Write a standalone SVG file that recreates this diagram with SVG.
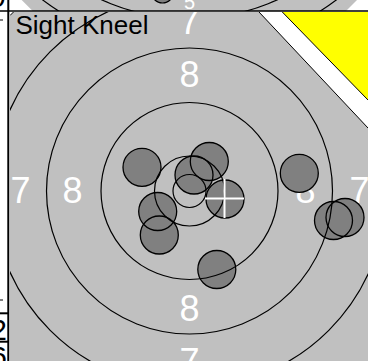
<svg xmlns="http://www.w3.org/2000/svg" width="368" height="361" viewBox="0 0 368 361">
<style>
.ring{fill:none;stroke:#000;stroke-width:1.2}
.hole{fill:#808080;stroke:none}
.holeline{fill:none;stroke:#000;stroke-width:1.3}
.lbl{font-family:"Liberation Sans",Arial,sans-serif;font-size:36px;fill:#fff;text-anchor:middle}
.frame{stroke:#000;stroke-width:2}
.side{font-family:"Liberation Sans",Arial,sans-serif;font-size:30px;fill:#000;text-anchor:end}
</style>
<defs>
<clipPath id="mainClip"><rect x="10" y="12" width="358" height="349"/></clipPath>
<clipPath id="prevClip"><polygon points="21.7,0 357,0 346,11 32.7,11"/></clipPath>
<clipPath id="sideClip"><rect x="0" y="0" width="7.5" height="361"/></clipPath>
<circle id="h" r="19"/>
</defs>
<rect width="368" height="361" fill="#fff"/>

<g id="previous-panel">
<polygon points="21.7,0 357,0 346,11 32.7,11" fill="#c0c0c0"/>
<g clip-path="url(#prevClip)">
<text x="189.5" y="9.3" class="lbl" style="font-size:20px">5</text>
<circle cx="162.5" cy="-8" r="11" fill="#808080" stroke="#000" stroke-width="1.2"/>
<circle cx="189.5" cy="-195" r="244" class="ring"/>
<circle cx="189.5" cy="-195" r="213.7" class="ring"/>
</g>
</g>

<g id="main-panel" clip-path="url(#mainClip)">
<rect x="10" y="12" width="358" height="349" fill="#c0c0c0"/>
<polygon points="10,12 13.5,12 10,15.5" fill="#fff"/>
<line x1="10" y1="15.5" x2="13.5" y2="12" stroke="#000" stroke-width="1"/>
<g id="labels">
<text class="lbl" x="189.5" y="34">7</text>
<text class="lbl" x="189.5" y="87.3">8</text>
<text class="lbl" x="20.5" y="203.3">7</text>
<text class="lbl" x="72.5" y="203.3">8</text>
<text class="lbl" x="305.5" y="203.3">8</text>
<text class="lbl" x="359.5" y="203.3">7</text>
<text class="lbl" x="189.5" y="321">8</text>
<text class="lbl" x="189.5" y="374">7</text>
</g>
<g id="hole-fills" class="hole">
<use href="#h" x="142" y="167.3"/>
<use href="#h" x="209.3" y="161.5"/>
<use href="#h" x="194" y="175"/>
<use href="#h" x="225" y="199"/>
<use href="#h" x="157.7" y="211.5"/>
<use href="#h" x="159.3" y="235"/>
<use href="#h" x="216.8" y="269.5"/>
<use href="#h" x="299.3" y="173.3"/>
<use href="#h" x="333.5" y="220.5"/>
<use href="#h" x="345" y="217.5"/>
</g>
<g id="rings">
<circle class="ring" cx="189.5" cy="191" r="16.5"/>
<circle class="ring" cx="189.5" cy="191" r="35"/>
<circle class="ring" cx="189.5" cy="191" r="88.5"/>
<circle class="ring" cx="189.5" cy="191" r="143"/>
<circle class="ring" cx="189.5" cy="191" r="197"/>
</g>
<g id="hole-outlines" class="holeline">
<use href="#h" x="142" y="167.3"/>
<use href="#h" x="209.3" y="161.5"/>
<use href="#h" x="194" y="175"/>
<use href="#h" x="225" y="199"/>
<use href="#h" x="157.7" y="211.5"/>
<use href="#h" x="159.3" y="235"/>
<use href="#h" x="216.8" y="269.5"/>
<use href="#h" x="299.3" y="173.3"/>
<use href="#h" x="333.5" y="220.5"/>
<use href="#h" x="345" y="217.5"/>
</g>
<g id="crosshair" stroke="#fff" stroke-width="2">
<line x1="205" y1="198.5" x2="244" y2="198.5"/>
<line x1="224.5" y1="179" x2="224.5" y2="218"/>
</g>
<g id="sighter-marker">
<polygon points="259,12 368,12 368,128" fill="#fff"/>
<line x1="259" y1="12" x2="368" y2="128" stroke="#000" stroke-width="1"/>
<polygon points="282.3,12 368,12 368,100" fill="#ffff00"/>
<line x1="282.3" y1="12" x2="368" y2="100" stroke="#000" stroke-width="1"/>
</g>
<text x="15.5" y="33.5" style="font-family:'Liberation Sans',Arial,sans-serif;font-size:26px;fill:#000">Sight Kneel</text>
</g>

<g id="side-column">
<g clip-path="url(#sideClip)">
<text class="side" x="6" y="6.5">9</text>
<text class="side" x="7" y="340">2</text>
<text class="side" x="7" y="366.5">6</text>
</g>
<line x1="0" y1="20" x2="3" y2="20" stroke="#000" stroke-width="1"/>
<line x1="0" y1="300" x2="3" y2="300" stroke="#000" stroke-width="1"/>
<line class="frame" x1="0" y1="313.3" x2="8" y2="313.3"/>
<line class="frame" x1="0" y1="341.7" x2="8" y2="341.7"/>
</g>

<g id="frame-lines">
<line class="frame" x1="8.3" y1="0" x2="8.3" y2="361"/>
<line x1="0" y1="11" x2="368" y2="11" stroke="#000" stroke-width="1.6"/>
</g>
</svg>
